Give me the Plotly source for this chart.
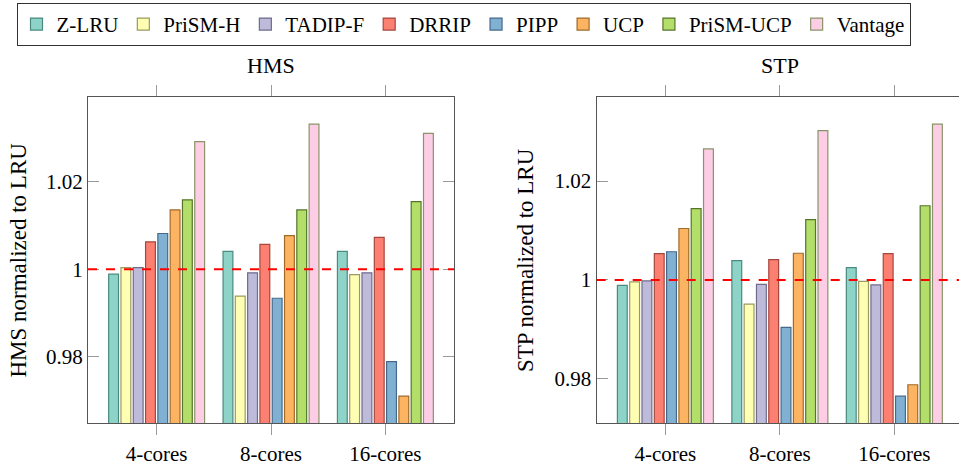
import plotly.graph_objects as go

categories = ["4-cores", "8-cores", "16-cores"]
series_names = ["Z-LRU", "PriSM-H", "TADIP-F", "DRRIP", "PIPP", "UCP", "PriSM-UCP", "Vantage"]

hms_zlru = [0.9989, 1.0041, 1.0041]
hms_prismh = [1.0004, 0.9939, 0.9988]
hms_tadipf = [1.0004, 0.9992, 0.9992]
hms_drrip = [1.0063, 1.0057, 1.0073]
hms_pipp = [1.0082, 0.9934, 0.9789]
hms_ucp = [1.0136, 1.0077, 0.9710]
hms_prismucp = [1.0159, 1.0136, 1.0155]
hms_vantage = [1.0292, 1.0332, 1.0311]

stp_zlru = [0.9989, 1.0039, 1.0025]
stp_prismh = [0.9996, 0.9951, 0.9997]
stp_tadipf = [0.9998, 0.9991, 0.9990]
stp_drrip = [1.0053, 1.0041, 1.0053]
stp_pipp = [1.0057, 0.9904, 0.9765]
stp_ucp = [1.0104, 1.0054, 0.9788]
stp_prismucp = [1.0144, 1.0122, 1.0150]
stp_vantage = [1.0265, 1.0302, 1.0315]

ytick_vals = [0.98, 1.0, 1.02]
ytick_text = ["0.98", "1", "1.02"]

hms_series = [hms_zlru, hms_prismh, hms_tadipf, hms_drrip, hms_pipp, hms_ucp, hms_prismucp, hms_vantage]
stp_series = [stp_zlru, stp_prismh, stp_tadipf, stp_drrip, stp_pipp, stp_ucp, stp_prismucp, stp_vantage]

fills = ["#8dd3c7", "#ffffb3", "#bebada", "#fb8072", "#80b1d3", "#fdb462", "#b3de69", "#fccde5"]
edges = ["#4a8a7f", "#9a9a60", "#6f6b8a", "#a5473d", "#45698a", "#a06a28", "#56752a", "#8a9468"]

FONT = "Liberation Serif, Times New Roman, serif"
W, H = 959, 466

fig = go.Figure()
for i, name in enumerate(series_names):
    fig.add_trace(go.Bar(
        x=categories, y=hms_series[i], name=name, legendgroup=name,
        marker=dict(color=fills[i], line=dict(color=edges[i], width=1.2)),
        xaxis="x", yaxis="y", showlegend=True,
    ))
for i, name in enumerate(series_names):
    fig.add_trace(go.Bar(
        x=categories, y=stp_series[i], name=name, legendgroup=name,
        marker=dict(color=fills[i], line=dict(color=edges[i], width=1.2)),
        xaxis="x2", yaxis="y2", showlegend=False,
    ))

ydom = [1 - 427 / H, 1 - 98.3 / H]
axis_line = "#555555"
tick_col = "#9a9a9a"

common_x = dict(showgrid=False, zeroline=False, showline=True, linecolor=axis_line, linewidth=1.3,
                ticks="outside", ticklen=11, tickcolor=tick_col, tickwidth=1, mirror="allticks",
                tickfont=dict(family=FONT, size=21, color="black"), type="category")
common_y = dict(showgrid=False, zeroline=False, showline=True, linecolor=axis_line, linewidth=1.3,
                ticks="inside", ticklen=11, tickcolor=tick_col, tickwidth=1,
                tickvals=ytick_vals, ticktext=ytick_text,
                tickfont=dict(family=FONT, size=21, color="black"))

fig.update_layout(
    width=W, height=H,
    margin=dict(l=0, r=0, t=0, b=0),
    paper_bgcolor="white", plot_bgcolor="white",
    barmode="group", bargap=0.14, bargroupgap=0.2,
    font=dict(family=FONT, size=21, color="black"),
    xaxis=dict(common_x, domain=[88 / W, 454 / W], range=[-0.6, 2.6], anchor="y"),
    yaxis=dict(common_y, domain=ydom, range=[0.9648, 1.0393], anchor="x", mirror="allticks",
               title=dict(text="HMS normalized to LRU", font=dict(family=FONT, size=23), standoff=12)),
    xaxis2=dict(common_x, domain=[596.7 / W, 1.0], range=[-0.6, 2.565], anchor="y2"),
    yaxis2=dict(common_y, domain=ydom, range=[0.9710, 1.0369], anchor="x2", mirror=False,
                title=dict(text="STP normalized to LRU", font=dict(family=FONT, size=23), standoff=14)),
    yaxis3=dict(overlaying="y2", anchor="x2", side="right", range=[0.9710, 1.0369],
                showgrid=False, zeroline=False, showline=False, ticks="inside", ticklen=7,
                tickcolor=tick_col, tickvals=ytick_vals, showticklabels=False),
    legend=dict(orientation="h", x=463.5 / W, xanchor="center", y=1 - 3 / H, yanchor="top",
                bordercolor="#333333", borderwidth=1, bgcolor="white",
                font=dict(family=FONT, size=21), itemwidth=30, tracegroupgap=0,
                itemclick=False),
    annotations=[
        dict(text="HMS", x=271 / W, y=1 - 66 / H, xref="paper", yref="paper", showarrow=False,
             font=dict(family=FONT, size=22), xanchor="center", yanchor="middle"),
        dict(text="STP", x=780 / W, y=1 - 66 / H, xref="paper", yref="paper", showarrow=False,
             font=dict(family=FONT, size=22), xanchor="center", yanchor="middle"),
    ],
    shapes=[
        dict(type="line", xref="x domain", yref="y", x0=0, x1=1, y0=1, y1=1,
             line=dict(color="#ff0000", width=2, dash="dash")),
        dict(type="line", xref="x2 domain", yref="y2", x0=0, x1=1, y0=1, y1=1,
             line=dict(color="#ff0000", width=2, dash="dash")),
    ],
)

fig.write_html("out.html", config={"displayModeBar": False},
               post_script="document.body.style.margin='0';document.body.style.padding='0';")
